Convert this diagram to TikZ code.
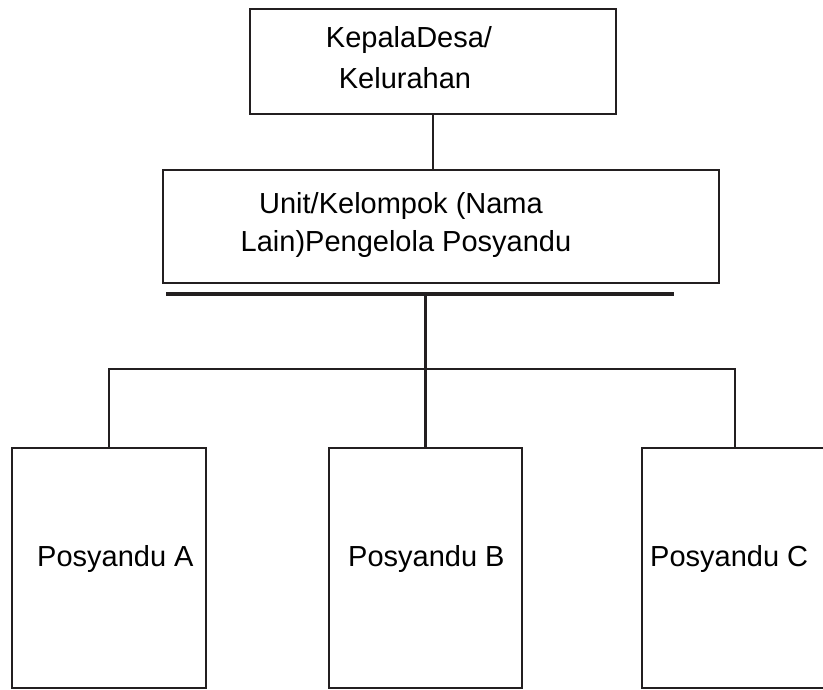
\documentclass[tikz,border=0pt]{standalone}
\usepackage{fontspec}
\setmainfont{Liberation Sans}
\definecolor{ink}{HTML}{231F20}
\begin{document}
\begin{tikzpicture}[x=1pt,y=-1pt,
  box/.style={draw=ink,line width=1.6pt,rectangle,inner sep=0pt,outer sep=0pt,anchor=north west},
  pbox/.style={draw=ink,line width=2.2pt,rectangle,inner sep=0pt,outer sep=0pt,anchor=north west,minimum width=194pt,minimum height=240pt},
  conn/.style={draw=ink,line width=2.6pt},
  thin/.style={draw=ink,line width=1.6pt},
  lbl/.style={anchor=base,font=\fontsize{29}{35}\selectfont,inner sep=0pt},
  lblw/.style={anchor=base west,font=\fontsize{29}{35}\selectfont,inner sep=0pt}]
\useasboundingbox[fill=white] (0,0) rectangle (823,689);

% boxes
\node[box,minimum width=366pt,minimum height=105pt] (kepala) at (250,9) {};
\node[box,minimum width=556pt,minimum height=113pt] (unit) at (163,170) {};
\node[pbox] (pa) at (12,448) {};
\node[pbox,minimum width=193pt] (pb) at (329,448) {};
\node[pbox,minimum width=186pt] (pc) at (642,448) {};

% texts
\node[lbl] (k1) at (409,47) {KepalaDesa/};
\node[lbl] (k2) at (405,88) {Kelurahan};
\node[lbl] (u1) at (401,213) {Unit/Kelompok (Nama};
\node[lbl] (u2) at (406,251) {Lain)Pengelola Posyandu};
\node[lblw] (ta) at (37,566) {Posyandu A};
\node[lblw] (tb) at (348,566) {Posyandu B};
\node[lblw] (tc) at (650,566) {Posyandu C};

% connectors
\coordinate (barL) at (166,294);
\coordinate (barR) at (674,294);
\coordinate (barM) at (pb.north |- barL);
\coordinate (hub) at (pb.north |- 0,369);
\coordinate (hubL) at (pa.north |- hub);
\coordinate (hubR) at (pc.north |- hub);

\draw[thin] (kepala.south) -- (kepala.south |- unit.north);
\draw[draw=ink,line width=3.4pt] (barL) -- (barR);
\draw[conn] (barM) -- (pb.north);
\draw[conn,line cap=rect] (hubL) -- (hubR);
\draw[conn] (hubL) -- (pa.north);
\draw[conn] (hubR) -- (pc.north);
\end{tikzpicture}
\end{document}
